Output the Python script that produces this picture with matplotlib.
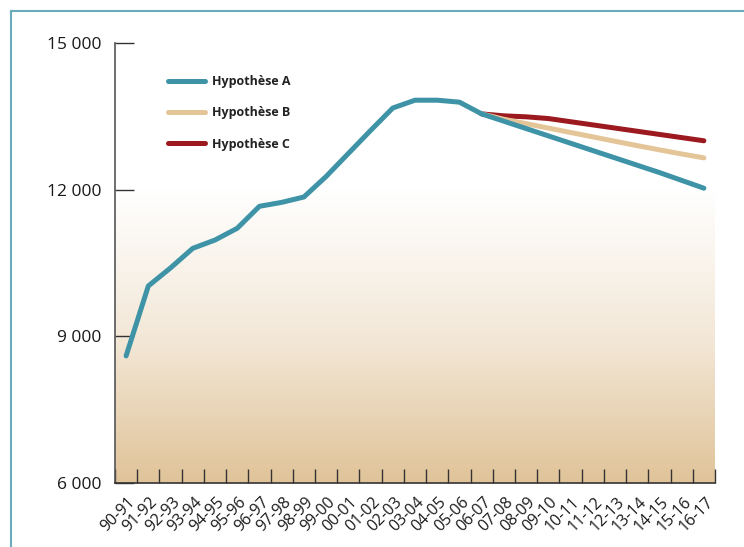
import numpy as np
import matplotlib.pyplot as plt
from matplotlib.colors import LinearSegmentedColormap
from matplotlib.lines import Line2D
from matplotlib.ticker import FuncFormatter
import matplotlib.transforms as mtransforms

plt.rcParams['font.family'] = ['Open Sans', 'DejaVu Sans']

years = ['90-91', '91-92', '92-93', '93-94', '94-95', '95-96', '96-97', '97-98',
         '98-99', '99-00', '00-01', '01-02', '02-03', '03-04', '04-05', '05-06',
         '06-07', '07-08', '08-09', '09-10', '10-11', '11-12', '12-13', '13-14',
         '14-15', '15-16', '16-17']

# observed values 90-91 .. 06-07
hist = [8600, 10030, 10400, 10800, 10970, 11210, 11660, 11740, 11850,
        12270, 12740, 13210, 13670, 13830, 13830, 13790, 13550]

# projections 06-07 .. 16-17
hyp_a = [13550, 13400, 13250, 13100, 12950, 12800, 12650, 12500, 12350, 12190, 12030]
hyp_b = [13550, 13440, 13350, 13260, 13170, 13080, 12990, 12900, 12815, 12730, 12650]
hyp_c = [13550, 13510, 13490, 13455, 13390, 13325, 13260, 13195, 13130, 13065, 13000]

teal = '#3e93a6'
tan = '#e4c597'
red = '#9c1a1f'
frame = '#6aaabb'

fig = plt.figure(figsize=(7.44, 5.47), dpi=100)
ax = fig.add_axes([115 / 744, 64 / 547, 600 / 744, 440 / 547])

# background gradient below 12 000 (white at top, tan at bottom)
grad = np.linspace(0, 1, 256).reshape(-1, 1)
cmap = LinearSegmentedColormap.from_list('bg', ['#ffffff', '#f3e8d8', '#e0c399'])
ax.imshow(grad, cmap=cmap, aspect='auto', extent=[-0.5, 26.5, 6000, 12000],
          origin='upper', zorder=0)

x_hist = np.arange(len(hist))
x_proj = np.arange(len(hist) - 1, len(years))
lw = 3.6
ax.plot(x_proj, hyp_c, color=red, lw=lw, solid_capstyle='round', zorder=2)
ax.plot(x_proj, hyp_b, color=tan, lw=lw, solid_capstyle='round', zorder=3)
ax.plot(x_proj, hyp_a, color=teal, lw=lw, solid_capstyle='round', zorder=4)
ax.plot(x_hist, hist, color=teal, lw=lw, solid_capstyle='round',
        solid_joinstyle='round', zorder=4)

ax.set_xlim(-0.5, 26.5)
ax.set_ylim(6000, 15000)
ax.set_yticks([6000, 9000, 12000, 15000])
ax.yaxis.set_major_formatter(FuncFormatter(lambda v, p: f'{int(v):,}'.replace(',', ' ')))
ax.set_xticks(np.arange(-0.5, 27, 1))
ax.set_xticklabels([])
ax.set_xticks(np.arange(len(years)), minor=True)
ax.set_xticklabels(years, minor=True, rotation=45, ha='right', va='center',
                   rotation_mode='anchor', fontsize=11.5, color='#1a1a1a')
ax.tick_params(axis='x', which='minor', length=0, pad=12)
ax.tick_params(axis='x', which='major', direction='in', length=10, width=1, color='#333333')
ax.tick_params(axis='y', direction='in', length=14, width=1, color='#333333',
               labelsize=12.5, pad=10, labelcolor='#1a1a1a')
for s in ['top', 'right']:
    ax.spines[s].set_visible(False)
ax.spines['left'].set_color('#555555')
ax.spines['bottom'].set_color('#333333')
ax.spines['left'].set_linewidth(1.2)
ax.spines['bottom'].set_linewidth(1.2)

# shift x labels a little to the right
offset = mtransforms.ScaledTranslation(7 / 100, 0, fig.dpi_scale_trans)
for lab in ax.get_xticklabels(minor=True):
    lab.set_transform(lab.get_transform() + offset)

handles = [Line2D([], [], color=c, lw=3.6, solid_capstyle='round') for c in (teal, tan, red)]
ax.legend(handles, ['Hypothèse A', 'Hypothèse B', 'Hypothèse C'],
          loc='upper left', bbox_to_anchor=(162 / 744, 1 - 69 / 547),
          bbox_transform=fig.transFigure, frameon=False, borderpad=0,
          handlelength=2.9, handletextpad=0.6, labelspacing=1.45,
          prop={'size': 9, 'weight': 'bold'}, labelcolor='#222222')

# teal frame
fig.add_artist(Line2D([11 / 744, 11 / 744], [0, 1 - 11 / 547], color=frame, lw=1.5,
                      transform=fig.transFigure))
fig.add_artist(Line2D([11 / 744, 1], [1 - 11 / 547, 1 - 11 / 547], color=frame, lw=1.5,
                      transform=fig.transFigure))

fig.savefig('out.png', dpi=100)
